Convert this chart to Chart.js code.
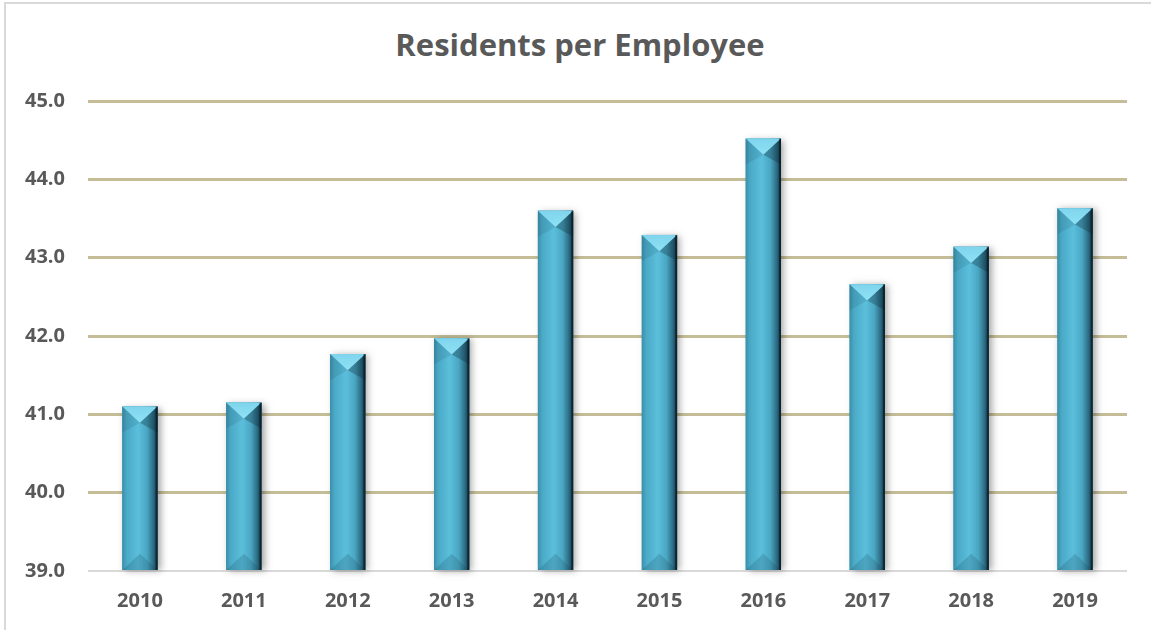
<!DOCTYPE html>
<html>
<head>
<meta charset="utf-8">
<script src="https://cdn.jsdelivr.net/npm/chart.js@4/dist/chart.umd.min.js"></script>
<style>
    html, body { margin: 0; padding: 0; background: #fff; }
    #wrap { position: relative; width: 1151px; height: 630px; overflow: hidden; }
    #frame {
        position: absolute; left: 4px; top: 2px; width: 1160px; height: 640px;
        border-left: 2px solid #d9d9d9; border-top: 2px solid #d9d9d9;
    }
    #title {
        position: absolute; left: 0; width: 1160px; top: 23px;
        line-height: 37px; text-align: center;
        font: bold 31px 'Open Sans', sans-serif; color: #595959;
    }
    canvas { position: absolute; left: 0; top: 0; }
</style>
</head>
<body>
<div id="wrap">
    <div id="frame"></div>
    <div id="title">Residents per Employee</div>
    <canvas id="residentsChart" width="1151" height="630"></canvas>
</div>
<script>
const years = ['2010', '2011', '2012', '2013', '2014', '2015', '2016', '2017', '2018', '2019'];
const residentsPerEmployee = [41.1, 41.15, 41.77, 41.97, 43.6, 43.29, 44.52, 42.66, 43.14, 43.63];
const yTicks = [39, 40, 41, 42, 43, 44, 45];

const labelFont = { family: 'Open Sans', size: 20, weight: 'bold' };

// bevelled 3D look for each bar: side gradient, lit top wedge, shaded bottom wedge
const bevelBars = {
    id: 'bevelBars',
    afterDatasetsDraw(chart) {
        const ctx = chart.ctx;
        const area = chart.chartArea;
        const meta = chart.getDatasetMeta(0);
        meta.data.forEach(bar => {
            const w = bar.width;
            const left = bar.x - w / 2;
            const right = bar.x + w / 2;
            const top = bar.y;
            const bottom = Math.min(bar.base, area.bottom);
            const depth = w * 0.46;

            // soft drop shadow
            ctx.save();
            ctx.shadowColor = 'rgba(0, 0, 0, 0.35)';
            ctx.shadowBlur = 7;
            ctx.shadowOffsetX = 3;
            ctx.shadowOffsetY = 1;
            ctx.fillStyle = '#3a9ab8';
            ctx.fillRect(left, top, w, bottom - top);
            ctx.restore();

            // body: shaded across the width
            const side = ctx.createLinearGradient(left, 0, right, 0);
            side.addColorStop(0, '#3b8ea8');
            side.addColorStop(0.12, '#4aa9c6');
            side.addColorStop(0.45, '#5bbfdc');
            side.addColorStop(0.7, '#4aa6c2');
            side.addColorStop(0.88, '#2c6c84');
            side.addColorStop(1, '#12303e');
            ctx.fillStyle = side;
            ctx.fillRect(left, top, w, bottom - top);

            // top wedge
            const lit = ctx.createLinearGradient(0, top, 0, top + depth);
            lit.addColorStop(0, '#7fd4ec');
            lit.addColorStop(1, '#8fe2f6');
            ctx.beginPath();
            ctx.moveTo(left, top);
            ctx.lineTo(right, top);
            ctx.lineTo(bar.x, top + depth);
            ctx.closePath();
            ctx.fillStyle = lit;
            ctx.fill();
            // darker flanks of the top wedge
            ctx.beginPath();
            ctx.moveTo(right, top);
            ctx.lineTo(bar.x, top + depth);
            ctx.lineTo(right, top + depth * 1.6);
            ctx.closePath();
            ctx.fillStyle = 'rgba(10, 35, 50, 0.3)';
            ctx.fill();
            ctx.beginPath();
            ctx.moveTo(left, top);
            ctx.lineTo(bar.x, top + depth);
            ctx.lineTo(left, top + depth * 1.6);
            ctx.closePath();
            ctx.fillStyle = 'rgba(10, 35, 50, 0.1)';
            ctx.fill();

            // bottom wedge
            ctx.beginPath();
            ctx.moveTo(left, bottom);
            ctx.lineTo(right, bottom);
            ctx.lineTo(bar.x, bottom - depth);
            ctx.closePath();
            ctx.fillStyle = 'rgba(20, 70, 90, 0.2)';
            ctx.fill();

            // thin dark rim on the right
            ctx.fillStyle = 'rgba(5, 20, 30, 0.55)';
            ctx.fillRect(right - 2, top, 2, bottom - top);
        });
    }
};

new Chart(document.getElementById('residentsChart'), {
    type: 'bar',
    data: {
        labels: years,
        datasets: [{
            data: residentsPerEmployee,
            base: 39,
            backgroundColor: 'rgba(0, 0, 0, 0)',
            borderWidth: 0,
            categoryPercentage: 0.68,
            barPercentage: 0.5
        }]
    },
    options: {
        responsive: false,
        animation: false,
        layout: { padding: { left: 0, right: 24, top: 101, bottom: 0 } },
        plugins: {
            legend: { display: false },
            tooltip: { enabled: false },
            title: { display: false }
        },
        scales: {
            x: {
                grid: { display: false, drawTicks: false },
                border: { display: false },
                ticks: { color: '#595959', font: labelFont, padding: 18 },
                afterFit(scale) { scale.height = 59; }
            },
            y: {
                min: 39,
                max: 45,
                afterBuildTicks(scale) { scale.ticks = yTicks.map(v => ({ value: v })); },
                grid: {
                    drawTicks: false,
                    color: c => c.tick && c.tick.value === 39 ? '#d9d9d9' : '#c4bd97',
                    lineWidth: c => c.tick && c.tick.value === 39 ? 2 : 3
                },
                border: { display: false },
                ticks: {
                    color: '#595959',
                    font: labelFont,
                    padding: 23,
                    callback: v => v.toFixed(1)
                },
                afterFit(scale) { scale.width = 88; }
            }
        }
    },
    plugins: [bevelBars]
});
</script>
</body>
</html>
